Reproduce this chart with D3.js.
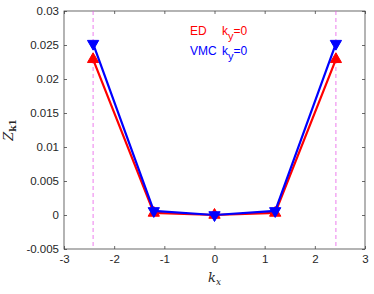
<!DOCTYPE html>
<html>
<head>
<meta charset="utf-8">
<script src="https://cdn.jsdelivr.net/npm/d3@7"></script>
<style>
  body { margin: 0; background: #fff; }
  text { font-family: "Liberation Sans", Arial, sans-serif; }
</style>
</head>
<body>
<svg id="chart"></svg>
<script>
const kx = [-2.42, -1.21, 0, 1.21, 2.42];
const edValues = [0.0229, 0.0003, 0.0000, 0.0003, 0.0229];
const vmcValues = [0.0252, 0.0006, 0.0000, 0.0006, 0.0252];
const xTicks = [-3, -2, -1, 0, 1, 2, 3];
const yTicks = [-0.005, 0, 0.005, 0.01, 0.015, 0.02, 0.025, 0.03];
const guideLines = [-2.42, 2.42];

const width = 374, height = 294;
const margin = { left: 64, right: 9, top: 11, bottom: 45 };

const svg = d3.select("#chart").attr("width", width).attr("height", height);

const x = d3.scaleLinear().domain([-3, 3]).range([margin.left, width - margin.right]);
const y = d3.scaleLinear().domain([-0.005, 0.03]).range([height - margin.bottom, margin.top]);

// box
svg.append("rect")
    .attr("x", margin.left).attr("y", margin.top)
    .attr("width", width - margin.left - margin.right)
    .attr("height", height - margin.top - margin.bottom)
    .attr("fill", "none").attr("stroke", "#444").attr("stroke-width", 0.8);

// axes
const xAxis = d3.axisBottom(x).tickValues(xTicks).tickSize(-3).tickPadding(6).tickFormat(d => String(d));
const yAxis = d3.axisLeft(y).tickValues(yTicks).tickSize(-3).tickPadding(5).tickFormat(d => d === 0 ? "0" : String(+d.toFixed(3)));

const gx = svg.append("g").attr("transform", `translate(0,${height - margin.bottom})`).call(xAxis);
const gy = svg.append("g").attr("transform", `translate(${margin.left},0)`).call(yAxis);
[gx, gy].forEach(g => {
    g.select(".domain").remove();
    g.selectAll("line").attr("stroke", "#444").attr("stroke-width", 0.8);
    g.selectAll("text").attr("fill", "#262626").attr("font-size", 11.5)
        .style("font-family", "'Liberation Sans', Arial, sans-serif");
});
// top/right ticks
svg.append("g").attr("transform", `translate(0,${margin.top})`)
    .call(d3.axisTop(x).tickValues(xTicks).tickSize(-3).tickFormat(""))
    .call(g => { g.select(".domain").remove(); g.selectAll("line").attr("stroke", "#444").attr("stroke-width", 0.8); });
svg.append("g").attr("transform", `translate(${width - margin.right},0)`)
    .call(d3.axisRight(y).tickValues(yTicks).tickSize(-3).tickFormat(""))
    .call(g => { g.select(".domain").remove(); g.selectAll("line").attr("stroke", "#444").attr("stroke-width", 0.8); });

// dashed guide lines
svg.selectAll(".guide").data(guideLines).enter().append("line")
    .attr("x1", d => x(d)).attr("x2", d => x(d))
    .attr("y1", y(0.03)).attr("y2", y(-0.005))
    .attr("stroke", "#e85ce8").attr("stroke-width", 0.8).attr("stroke-dasharray", "4,3");

const line = d3.line().x(d => x(d[0])).y(d => y(d[1]));

function drawSeries(values, color, symbolRotate) {
    const pts = kx.map((k, i) => [k, values[i]]);
    svg.append("path").datum(pts)
        .attr("d", line).attr("fill", "none")
        .attr("stroke", color).attr("stroke-width", 2.2);
    svg.selectAll(null).data(pts).enter().append("path")
        .attr("d", d3.symbol(d3.symbolTriangle, 55)())
        .attr("transform", d => `translate(${x(d[0])},${y(d[1])}) rotate(${symbolRotate})`)
        .attr("fill", color).attr("stroke", color).attr("stroke-width", 1);
}
drawSeries(edValues, "#ff0000", 0);
drawSeries(vmcValues, "#0000ff", 180);

// legend
const legend = [
    { label: "ED", color: "#ff0000", yPos: 35 },
    { label: "VMC", color: "#0000ff", yPos: 55 }
];
legend.forEach(l => {
    svg.append("text").attr("x", 190).attr("y", l.yPos).attr("fill", l.color)
        .attr("font-size", 12).text(l.label);
    const t = svg.append("text").attr("x", 222).attr("y", l.yPos).attr("fill", l.color).attr("font-size", 12);
    t.append("tspan").text("k");
    t.append("tspan").attr("dy", 5).attr("font-size", 11).text("y");
    t.append("tspan").attr("dy", -5).text("=0");
});

// axis labels
svg.append("text")
    .attr("x", x(0)).attr("y", 282)
    .attr("text-anchor", "middle").attr("font-size", 13)
    .style("font-family", "'DejaVu Serif', serif").attr("font-style", "italic")
    .attr("fill", "#262626")
    .call(t => { t.append("tspan").text("k"); t.append("tspan").attr("font-size", 9).attr("dy", 3).text("x"); });

svg.append("text")
    .attr("transform", `translate(13,${y(0.0125)}) rotate(-90)`)
    .attr("text-anchor", "middle").attr("font-size", 13)
    .style("font-family", "'DejaVu Serif', serif").attr("fill", "#262626")
    .call(t => {
        t.append("tspan").attr("font-style", "italic").text("Z");
        t.append("tspan").attr("font-size", 9).attr("dy", 3).attr("font-weight", "bold").text("k1");
    });
</script>
</body>
</html>
